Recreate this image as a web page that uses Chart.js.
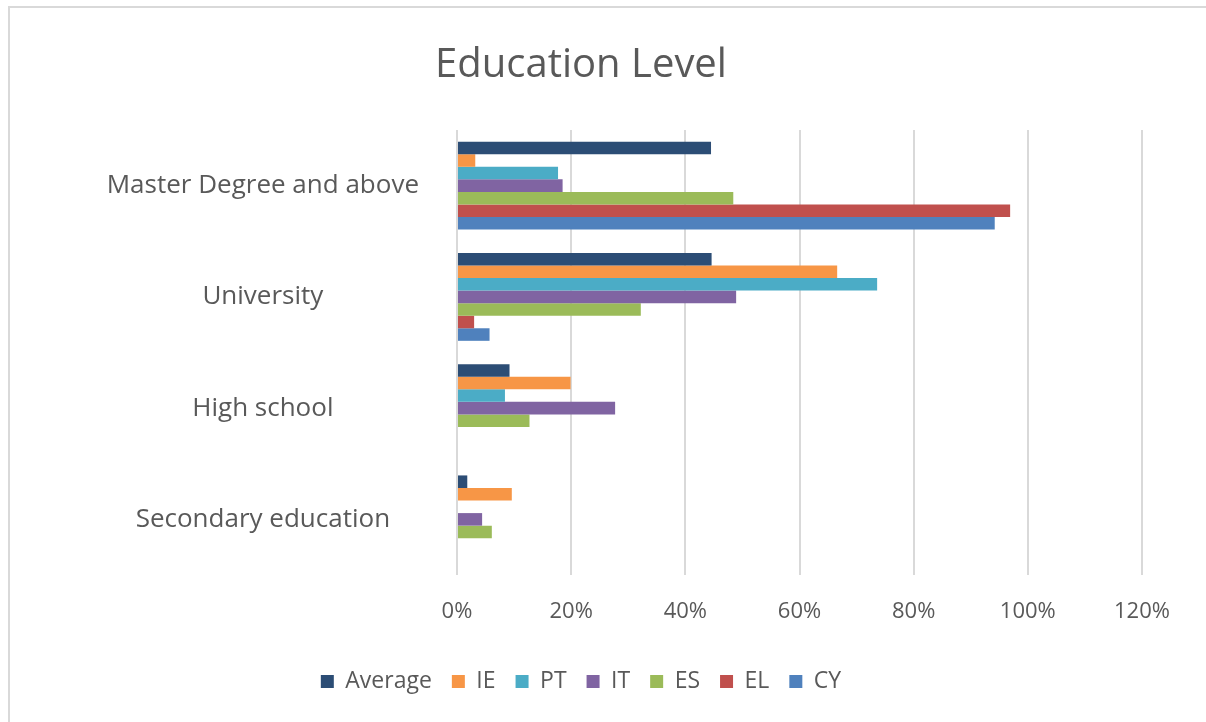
<!DOCTYPE html>
<html>
<head>
<meta charset="utf-8">
<script src="https://cdn.jsdelivr.net/npm/chart.js@4.4.1/dist/chart.umd.min.js"></script>
<style>
  html, body { margin: 0; padding: 0; background: #fff; overflow: hidden; }
  #wrap { position: relative; width: 1206px; height: 722px; overflow: hidden; }
  #frame { position: absolute; left: 8px; top: 6px; width: 1300px; height: 800px; border: 2px solid #d9d9d9; box-sizing: border-box; pointer-events: none; }
</style>
</head>
<body>
<div id="wrap">
  <canvas id="chart" width="1206" height="722"></canvas>
  <div id="frame"></div>
</div>
<script>
// categories, top to bottom
const categories = ['Master Degree and above', 'University', 'High school', 'Secondary education'];

// series values in percent, one per category
const average = [44.5, 44.6, 9.2, 1.8];
const ie      = [3.2, 66.6, 19.9, 9.6];
const pt      = [17.7, 73.6, 8.4, 0];
const it      = [18.5, 48.9, 27.7, 4.4];
const es      = [48.4, 32.2, 12.7, 6.1];
const el      = [96.9, 3.0, 0, 0];
const cy      = [94.2, 5.7, 0, 0];

const xTicks = [0, 20, 40, 60, 80, 100, 120];

const FONT = "'Open Sans', sans-serif";
const GREY = '#595959';

function series(label, data, color) {
    return {
        label: label,
        data: data,
        backgroundColor: color,
        borderColor: color,
        borderWidth: 0,
        categoryPercentage: 0.79,
        barPercentage: 1.0
    };
}

const ctx = document.getElementById('chart').getContext('2d');
new Chart(ctx, {
    type: 'bar',
    data: {
        labels: categories,
        datasets: [
            series('Average', average, '#2c4d75'),
            series('IE', ie, '#f79646'),
            series('PT', pt, '#4bacc6'),
            series('IT', it, '#8064a2'),
            series('ES', es, '#9bbb59'),
            series('EL', el, '#c0504d'),
            series('CY', cy, '#4f81bd')
        ]
    },
    options: {
        indexAxis: 'y',
        responsive: false,
        animation: false,
        layout: { padding: { left: 20, right: 64, top: 42, bottom: 19 } },
        plugins: {
            title: {
                display: true,
                text: 'Education Level',
                color: GREY,
                font: { family: FONT, size: 40, weight: 'normal', lineHeight: 1.2 },
                padding: { top: 0, bottom: 40 }
            },
            legend: {
                position: 'bottom',
                labels: {
                    color: GREY,
                    font: { family: FONT, size: 23 },
                    boxWidth: 13,
                    boxHeight: 13,
                    padding: 20
                }
            },
            tooltip: { enabled: false }
        },
        scales: {
            x: {
                min: 0,
                max: 120,
                afterBuildTicks: (scale) => { scale.ticks = xTicks.map(v => ({ value: v })); },
                afterFit: (scale) => { scale.height = 75; },
                grid: { color: '#d9d9d9', lineWidth: 2, drawTicks: false },
                border: { display: false },
                ticks: {
                    color: GREY,
                    font: { family: FONT, size: 22 },
                    padding: 24,
                    callback: (v) => v + '%'
                }
            },
            y: {
                grid: { display: false },
                border: { display: false },
                afterFit: (scale) => { scale.width = 437; },
                ticks: {
                    color: GREY,
                    font: { family: FONT, size: 26 },
                    crossAlign: 'center',
                    padding: 30
                }
            }
        }
    }
});
</script>
</body>
</html>
